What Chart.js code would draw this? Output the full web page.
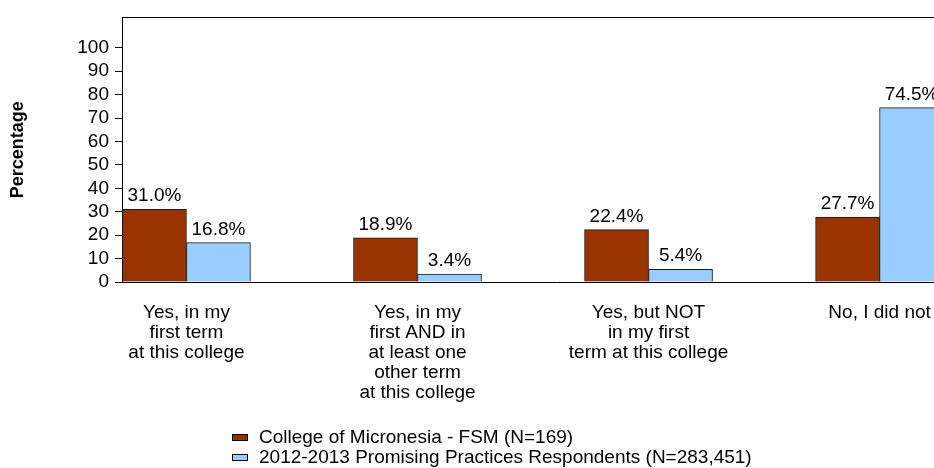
<!DOCTYPE html>
<html>
<head>
<meta charset="utf-8">
<script src="https://cdn.jsdelivr.net/npm/chart.js@4/dist/chart.umd.min.js"></script>
<style>
    html, body { margin: 0; padding: 0; background: #fff; overflow: hidden; }
    #wrap { position: relative; width: 1000px; height: 468px; }
    #legend { position: absolute; left: 232px; top: 427px; font: 19px "Liberation Sans", Arial, sans-serif; color: #000; }
    .row { height: 20px; line-height: 20px; white-space: nowrap; }
    .box { display: inline-block; width: 14px; height: 5px; border: 1px solid #000; margin-right: 11px; vertical-align: middle; }
</style>
</head>
<body>
<div id="wrap">
    <canvas id="chart"></canvas>
    <div id="legend"></div>
</div>
<script>
const categories = [
    ["Yes, in my", "first term", "at this college"],
    ["Yes, in my", "first AND in", "at least one", "other term", "at this college"],
    ["Yes, but NOT", "in my first", "term at this college"],
    ["No, I did not"]
];
const seriesNames = [
    "College of Micronesia - FSM (N=169)",
    "2012-2013 Promising Practices Respondents (N=283,451)"
];
const fsmValues = [31.0, 18.9, 22.4, 27.7];
const ppValues = [16.8, 3.4, 5.4, 74.5];
const yTicks = [0, 10, 20, 30, 40, 50, 60, 70, 80, 90, 100];

const FONT = '"Liberation Sans", Arial, sans-serif';

function toPoints(values) {
    return values.map((v, i) => ({ x: i, y: v }));
}

// percent labels above each bar
const barLabels = {
    id: "barLabels",
    afterDatasetsDraw(chart) {
        const ctx = chart.ctx;
        ctx.save();
        ctx.font = "19px " + FONT;
        ctx.fillStyle = "#000";
        ctx.textAlign = "center";
        ctx.textBaseline = "alphabetic";
        chart.data.datasets.forEach((ds, di) => {
            chart.getDatasetMeta(di).data.forEach((bar, i) => {
                ctx.fillText(ds.data[i].y.toFixed(1) + "%", bar.x, bar.y - 8);
            });
        });
        ctx.restore();
    }
};

// top line of the plot frame
const frame = {
    id: "frame",
    afterDraw(chart) {
        const { ctx, chartArea } = chart;
        ctx.save();
        ctx.strokeStyle = "#000";
        ctx.lineWidth = 1;
        ctx.beginPath();
        const y = Math.round(chartArea.top) + 0.5;
        ctx.moveTo(chartArea.left, y);
        ctx.lineTo(chartArea.right, y);
        ctx.stroke();
        ctx.restore();
    }
};

const chart = new Chart(document.getElementById("chart"), {
    type: "bar",
    data: {
        datasets: [
            {
                label: seriesNames[0],
                data: toPoints(fsmValues),
                backgroundColor: "#993300",
                borderColor: "#1a1a1a",
                borderWidth: 1,
                barThickness: 64
            },
            {
                label: seriesNames[1],
                data: toPoints(ppValues),
                backgroundColor: "#99ccff",
                borderColor: "#1a1a1a",
                borderWidth: 1,
                barThickness: 64
            }
        ]
    },
    options: {
        responsive: true,
        maintainAspectRatio: false,
        animation: false,
        layout: { padding: { top: 13, right: 10, left: 0, bottom: 0 } },
        plugins: {
            legend: { display: false },
            tooltip: { enabled: false }
        },
        scales: {
            x: {
                type: "linear",
                offset: false,
                min: -0.279,
                max: 3.478,
                afterBuildTicks: scale => {
                    scale.ticks = categories.map((c, i) => ({ value: i }));
                },
                afterFit: scale => { scale.height = 186; },
                grid: { display: false, drawTicks: false },
                border: { display: true, color: "#000", width: 1 },
                ticks: {
                    autoSkip: false,
                    maxRotation: 0,
                    padding: 21,
                    color: "#000",
                    font: { family: FONT, size: 19, lineHeight: 20 / 19 },
                    callback: value => categories[value]
                }
            },
            y: {
                min: 0,
                max: 113,
                afterBuildTicks: scale => {
                    scale.ticks = yTicks.map(v => ({ value: v }));
                },
                afterFit: scale => { scale.width = 122; },
                grid: { drawOnChartArea: false, drawTicks: true, tickLength: 7, color: "#000" },
                border: { display: true, color: "#000", width: 1 },
                ticks: {
                    padding: 6,
                    color: "#000",
                    font: { family: FONT, size: 19 }
                },
                title: {
                    display: true,
                    text: "Percentage",
                    color: "#000",
                    font: { family: FONT, size: 18, weight: "bold" },
                    padding: { top: 7, bottom: 0 }
                }
            }
        }
    },
    plugins: [barLabels, frame]
});

// legend below the chart, stacked rows
const legendEl = document.getElementById("legend");
chart.data.datasets.forEach(ds => {
    const row = document.createElement("div");
    row.className = "row";
    const box = document.createElement("span");
    box.className = "box";
    box.style.background = ds.backgroundColor;
    row.appendChild(box);
    row.appendChild(document.createTextNode(ds.label));
    legendEl.appendChild(row);
});
</script>
</body>
</html>
